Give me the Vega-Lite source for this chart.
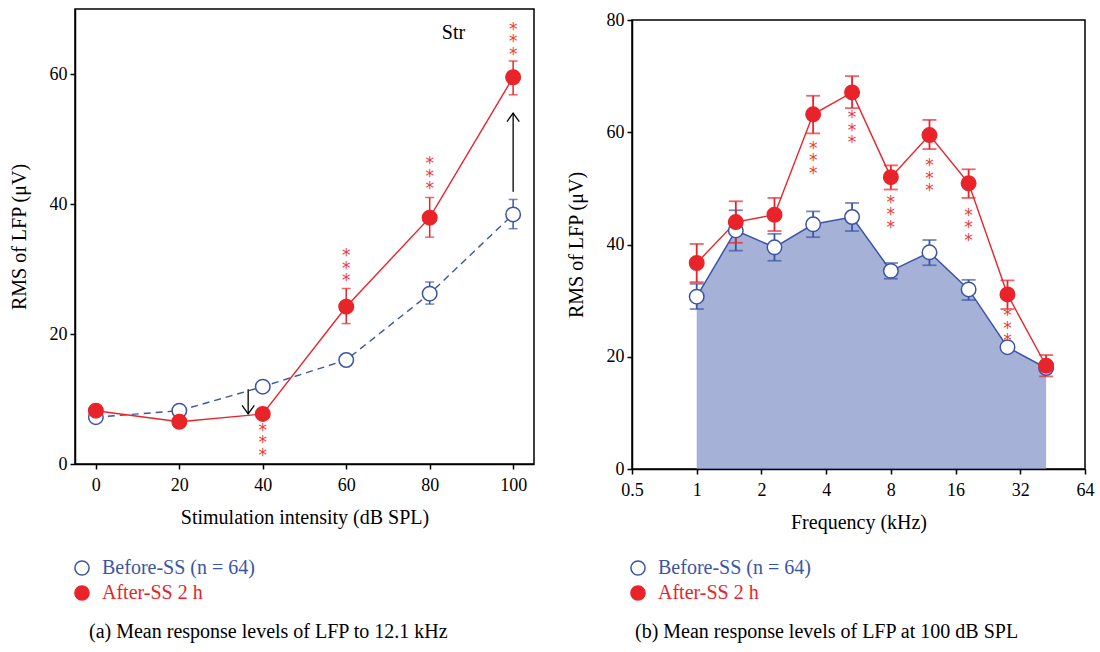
{
  "$schema": "https://vega.github.io/schema/vega-lite/v6.json",
  "background": "white",
  "padding": {"left": 8, "top": 8, "right": 0, "bottom": 0},
  "spacing": 30,
  "resolve": {"scale": {"fill": "independent", "stroke": "independent"}, "legend": {"fill": "independent", "stroke": "independent"}},
  "config": {
    "font": "Liberation Serif",
    "view": {"stroke": "black", "strokeWidth": 1.5},
    "axis": {"grid": false, "domainColor": "black", "domainWidth": 1.5, "tickColor": "black", "tickWidth": 1.5, "tickSize": 5, "labelColor": "black", "labelFontSize": 18, "titleFontSize": 20, "titleFontWeight": "normal", "titleColor": "black", "labelPadding": 3, "labelFlush": false},
    "legend": {"orient": "none", "title": null, "labelFontSize": 20, "symbolSize": 200, "symbolStrokeWidth": 1.5, "padding": 0, "rowPadding": 3, "labelOffset": 10},
    "title": {"fontSize": 20, "fontWeight": "normal", "color": "black", "font": "Liberation Serif"}
  },
  "datasets": {
    "left": [
      {"s": "Before-SS (n = 64)", "x": 0, "y": 7.2},
      {"s": "Before-SS (n = 64)", "x": 20, "y": 8.2},
      {"s": "Before-SS (n = 64)", "x": 40, "y": 11.9},
      {"s": "Before-SS (n = 64)", "x": 60, "y": 16.0},
      {"s": "Before-SS (n = 64)", "x": 80, "y": 26.2},
      {"s": "Before-SS (n = 64)", "x": 100, "y": 38.4},
      {"s": "After-SS 2 h", "x": 0, "y": 8.2},
      {"s": "After-SS 2 h", "x": 20, "y": 6.5},
      {"s": "After-SS 2 h", "x": 40, "y": 7.7},
      {"s": "After-SS 2 h", "x": 60, "y": 24.2},
      {"s": "After-SS 2 h", "x": 80, "y": 37.9},
      {"s": "After-SS 2 h", "x": 100, "y": 59.5}
    ],
    "leftErr": [
      {"s": "Before-SS (n = 64)", "x": 80, "y": 24.6, "y2": 28.0},
      {"s": "Before-SS (n = 64)", "x": 100, "y": 36.2, "y2": 40.7},
      {"s": "After-SS 2 h", "x": 60, "y": 21.6, "y2": 27.0},
      {"s": "After-SS 2 h", "x": 80, "y": 34.9, "y2": 41.0},
      {"s": "After-SS 2 h", "x": 100, "y": 56.8, "y2": 62.0}
    ],
    "leftStars": [
      {"x": 40, "y": 3.4},
      {"x": 60, "y": 30.3},
      {"x": 80, "y": 44.4},
      {"x": 100, "y": 65.1}
    ],
    "leftArrows": [
      {"x": 36.5, "y": 11.5, "y2": 7.7},
      {"x": 100, "y": 41.9, "y2": 54.0}
    ],
    "right": [
      {"s": "Before-SS (n = 64)", "x": 1, "y": 30.7},
      {"s": "Before-SS (n = 64)", "x": 1.52, "y": 42.5},
      {"s": "Before-SS (n = 64)", "x": 2.3, "y": 39.5},
      {"s": "Before-SS (n = 64)", "x": 3.48, "y": 43.6},
      {"s": "Before-SS (n = 64)", "x": 5.28, "y": 44.9},
      {"s": "Before-SS (n = 64)", "x": 8, "y": 35.3},
      {"s": "Before-SS (n = 64)", "x": 12.1, "y": 38.6},
      {"s": "Before-SS (n = 64)", "x": 18.4, "y": 32.0},
      {"s": "Before-SS (n = 64)", "x": 27.9, "y": 21.7},
      {"s": "Before-SS (n = 64)", "x": 42.2, "y": 18.0},
      {"s": "After-SS 2 h", "x": 1, "y": 36.7},
      {"s": "After-SS 2 h", "x": 1.52, "y": 44.0},
      {"s": "After-SS 2 h", "x": 2.3, "y": 45.3},
      {"s": "After-SS 2 h", "x": 3.48, "y": 63.2},
      {"s": "After-SS 2 h", "x": 5.28, "y": 67.1},
      {"s": "After-SS 2 h", "x": 8, "y": 52.0},
      {"s": "After-SS 2 h", "x": 12.1, "y": 59.5},
      {"s": "After-SS 2 h", "x": 18.4, "y": 50.9},
      {"s": "After-SS 2 h", "x": 27.9, "y": 31.1},
      {"s": "After-SS 2 h", "x": 42.2, "y": 18.4}
    ],
    "rightErr": [
      {"s": "Before-SS (n = 64)", "x": 1, "y": 28.5, "y2": 33.0},
      {"s": "Before-SS (n = 64)", "x": 1.52, "y": 38.9, "y2": 46.1},
      {"s": "Before-SS (n = 64)", "x": 2.3, "y": 37.1, "y2": 41.9},
      {"s": "Before-SS (n = 64)", "x": 3.48, "y": 41.3, "y2": 45.9},
      {"s": "Before-SS (n = 64)", "x": 5.28, "y": 42.4, "y2": 47.4},
      {"s": "Before-SS (n = 64)", "x": 8, "y": 33.9, "y2": 36.7},
      {"s": "Before-SS (n = 64)", "x": 12.1, "y": 36.3, "y2": 40.8},
      {"s": "Before-SS (n = 64)", "x": 18.4, "y": 30.1, "y2": 33.7},
      {"s": "After-SS 2 h", "x": 1, "y": 33.3, "y2": 40.1},
      {"s": "After-SS 2 h", "x": 1.52, "y": 40.3, "y2": 47.7},
      {"s": "After-SS 2 h", "x": 2.3, "y": 42.4, "y2": 48.3},
      {"s": "After-SS 2 h", "x": 3.48, "y": 59.8, "y2": 66.5},
      {"s": "After-SS 2 h", "x": 5.28, "y": 64.3, "y2": 70.0},
      {"s": "After-SS 2 h", "x": 8, "y": 49.8, "y2": 54.1},
      {"s": "After-SS 2 h", "x": 12.1, "y": 57.0, "y2": 62.2},
      {"s": "After-SS 2 h", "x": 18.4, "y": 48.3, "y2": 53.4},
      {"s": "After-SS 2 h", "x": 27.9, "y": 28.5, "y2": 33.6},
      {"s": "After-SS 2 h", "x": 42.2, "y": 16.5, "y2": 20.3}
    ],
    "rightStars": [
      {"x": 3.48, "y": 55.1},
      {"x": 5.28, "y": 60.5},
      {"x": 8, "y": 45.5},
      {"x": 12.1, "y": 52.0},
      {"x": 18.4, "y": 43.2},
      {"x": 27.9, "y": 25.3}
    ]
  },
  "hconcat": [
    {
      "width": 459,
      "height": 455,
      "title": {"text": "(a)  Mean response levels of LFP to 12.1 kHz", "orient": "bottom", "anchor": "start", "frame": "group", "dx": 14, "offset": 18},
      "encoding": {
        "x": {"field": "x", "type": "quantitative", "scale": {"domain": [-5, 105], "nice": false, "zero": false}, "axis": {"title": "Stimulation intensity (dB SPL)", "values": [0, 20, 40, 60, 80, 100], "labelPadding": 7, "titlePadding": 13}},
        "y": {"field": "y", "type": "quantitative", "scale": {"domain": [0, 70], "nice": false}, "axis": {"title": "RMS of LFP (μV)", "values": [0, 20, 40, 60], "titlePadding": 20}}
      },
      "layer": [
        {
          "data": {"name": "left"},
          "transform": [{"filter": "datum.s == 'Before-SS (n = 64)'"}],
          "mark": {"type": "line", "color": "#3b55a5", "strokeWidth": 1.4, "strokeDash": [7, 5]}
        },
        {
          "data": {"name": "left"},
          "transform": [{"filter": "datum.s == 'After-SS 2 h'"}],
          "mark": {"type": "line", "color": "#e8242a", "strokeWidth": 1.4}
        },
        {
          "data": {"name": "leftErr"},
          "transform": [{"filter": "datum.s == 'Before-SS (n = 64)'"}],
          "mark": {"type": "errorbar", "ticks": true, "size": 9, "thickness": 1.5, "color": "#3b55a5"},
          "encoding": {"y2": {"field": "y2"}}
        },
        {
          "data": {"name": "leftErr"},
          "transform": [{"filter": "datum.s == 'After-SS 2 h'"}],
          "mark": {"type": "errorbar", "ticks": true, "size": 9, "thickness": 1.5, "color": "#e8242a"},
          "encoding": {"y2": {"field": "y2"}}
        },
        {
          "data": {"name": "leftArrows"},
          "mark": {"type": "rule", "color": "black", "strokeWidth": 1.3},
          "encoding": {"y2": {"field": "y2"}}
        },
        {
          "data": {"name": "leftArrows"},
          "transform": [{"filter": "datum.y2 < datum.y"}],
          "mark": {"type": "point", "shape": "M -1 -1.4 L 0 0 L 1 -1.4", "size": 150, "filled": false, "color": "black", "strokeWidth": 1.3, "opacity": 1},
          "encoding": {"y": {"field": "y2", "type": "quantitative"}}
        },
        {
          "data": {"name": "leftArrows"},
          "transform": [{"filter": "datum.y2 > datum.y"}],
          "mark": {"type": "point", "shape": "M -1 1.4 L 0 0 L 1 1.4", "size": 150, "filled": false, "color": "black", "strokeWidth": 1.3, "opacity": 1},
          "encoding": {"y": {"field": "y2", "type": "quantitative"}}
        },
        {
          "data": {"name": "left"},
          "mark": {"type": "circle", "size": 210, "strokeWidth": 1.5, "opacity": 1},
          "encoding": {
            "fill": {"field": "s", "type": "nominal", "scale": {"domain": ["Before-SS (n = 64)", "After-SS 2 h"], "range": ["white", "#e8242a"]}, "legend": {"legendX": -3, "legendY": 549, "labelColor": {"expr": "datum.value === 'After-SS 2 h' ? '#e8242a' : '#3b55a5'"}}},
            "stroke": {"field": "s", "type": "nominal", "scale": {"domain": ["Before-SS (n = 64)", "After-SS 2 h"], "range": ["#3b55a5", "#e8242a"]}, "legend": {"legendX": -3, "legendY": 549, "labelColor": {"expr": "datum.value === 'After-SS 2 h' ? '#e8242a' : '#3b55a5'"}}}
          }
        },
        {
          "data": {"name": "leftStars"},
          "mark": {"type": "text", "text": "*\n*\n*", "lineBreak": "\n", "lineHeight": 12.5, "fontSize": 17, "font": "DejaVu Sans", "color": "#ee3a3a", "baseline": "middle", "align": "center", "dy": -11}
        },
        {
          "data": {"values": [{"x": 85.7, "y": 66.3, "label": "Str"}]},
          "mark": {"type": "text", "fontSize": 20, "color": "black", "baseline": "middle", "align": "center"},
          "encoding": {"text": {"field": "label"}}
        }
      ]
    },
    {
      "spacing": 0,
      "resolve": {"scale": {"fill": "independent", "stroke": "independent"}, "legend": {"fill": "independent", "stroke": "independent"}},
      "vconcat": [
        {
          "width": 453,
          "height": 0.5,
          "view": {"stroke": "white", "strokeWidth": 0.1},
          "data": {"values": []},
          "mark": "point"
        },
        {
          "width": 453,
          "height": 449,
          "title": {"text": "(b)  Mean response levels of LFP at 100 dB SPL", "orient": "bottom", "anchor": "start", "frame": "group", "dx": 3, "offset": 18},
          "encoding": {
            "x": {"field": "x", "type": "quantitative", "scale": {"type": "log", "base": 2, "domain": [0.5, 64], "nice": false}, "axis": {"title": "Frequency (kHz)", "values": [0.5, 1, 2, 4, 8, 16, 32, 64], "format": "~g", "labelPadding": 7, "titlePadding": 13}},
            "y": {"field": "y", "type": "quantitative", "scale": {"domain": [0, 80], "nice": false}, "axis": {"title": "RMS of LFP (μV)", "values": [0, 20, 40, 60, 80], "titlePadding": 20}}
          },
          "layer": [
            {
              "data": {"name": "right"},
              "transform": [{"filter": "datum.s == 'Before-SS (n = 64)'"}],
              "mark": {"type": "area", "fill": "#8090c8", "line": {"stroke": "#3b55a5", "strokeWidth": 1.5}}
            },
            {
              "data": {"name": "rightErr"},
              "transform": [{"filter": "datum.s == 'Before-SS (n = 64)'"}],
              "mark": {"type": "errorbar", "ticks": true, "size": 14, "thickness": 1.8, "color": "#3b55a5"},
              "encoding": {"y2": {"field": "y2"}}
            },
            {
              "data": {"name": "right"},
              "transform": [{"filter": "datum.s == 'After-SS 2 h'"}],
              "mark": {"type": "line", "color": "#e8242a", "strokeWidth": 1.4}
            },
            {
              "data": {"name": "rightErr"},
              "transform": [{"filter": "datum.s == 'After-SS 2 h'"}],
              "mark": {"type": "errorbar", "ticks": true, "size": 14, "thickness": 1.8, "color": "#e8242a"},
              "encoding": {"y2": {"field": "y2"}}
            },
            {
              "data": {"name": "right"},
              "mark": {"type": "circle", "size": 210, "strokeWidth": 1.5, "opacity": 1},
              "encoding": {
                "fill": {"field": "s", "type": "nominal", "scale": {"domain": ["Before-SS (n = 64)", "After-SS 2 h"], "range": ["white", "#e8242a"]}, "legend": {"legendX": -4, "legendY": 538, "labelColor": {"expr": "datum.value === 'After-SS 2 h' ? '#e8242a' : '#3b55a5'"}}},
                "stroke": {"field": "s", "type": "nominal", "scale": {"domain": ["Before-SS (n = 64)", "After-SS 2 h"], "range": ["#3b55a5", "#e8242a"]}, "legend": {"legendX": -4, "legendY": 538, "labelColor": {"expr": "datum.value === 'After-SS 2 h' ? '#e8242a' : '#3b55a5'"}}}
              }
            },
            {
              "data": {"name": "rightStars"},
              "mark": {"type": "text", "text": "*\n*\n*", "lineBreak": "\n", "lineHeight": 12.5, "fontSize": 17, "font": "DejaVu Sans", "color": "#ee3a3a", "baseline": "middle", "align": "center", "dy": -11}
            }
          ]
        }
      ]
    }
  ]
}
